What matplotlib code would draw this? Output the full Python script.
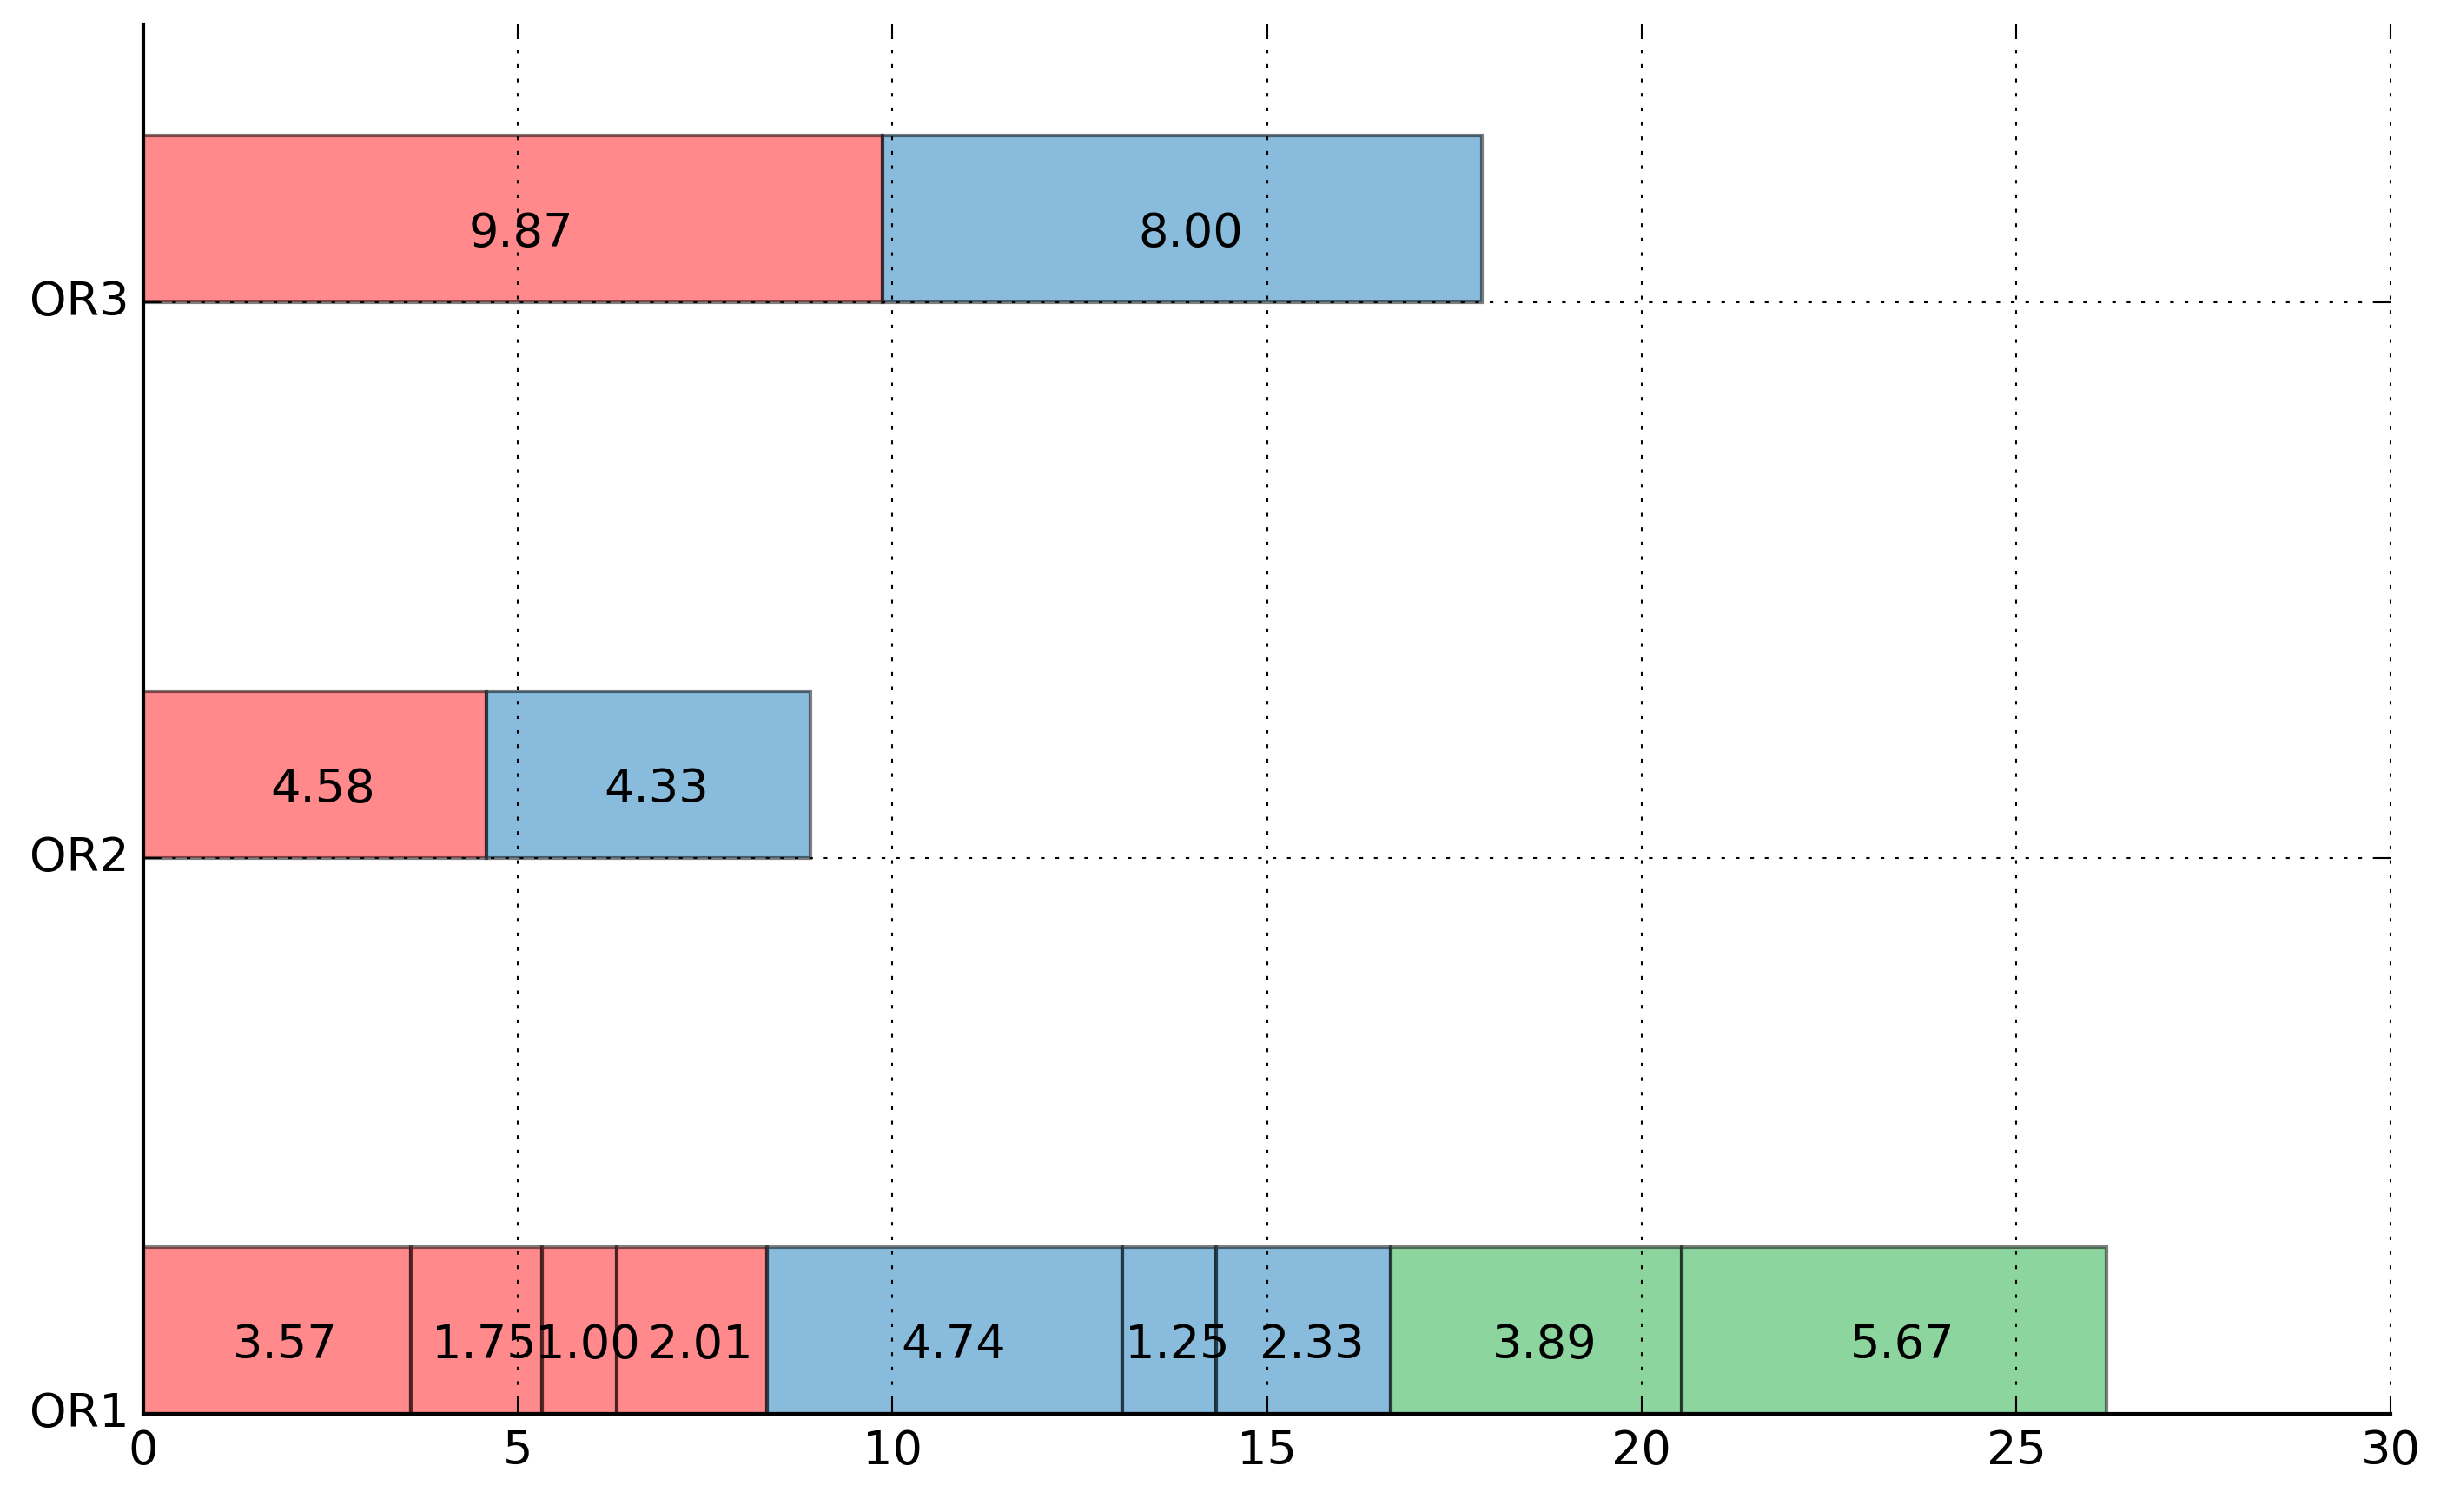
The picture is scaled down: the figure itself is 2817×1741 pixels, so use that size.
import matplotlib
matplotlib.use("Agg")
import matplotlib.pyplot as plt
import numpy as np

plt.style.use('classic')
plt.rcParams['font.family'] = ['DejaVu Sans']

categories = ['OR1', 'OR2', 'OR3']
# segments per row: (value, group)
or1_values = [3.57, 1.75, 1.00, 2.01, 4.74, 1.25, 2.33, 3.89, 5.67]
or1_groups = ['r', 'r', 'r', 'r', 'b', 'b', 'b', 'g', 'g']
or2_values = [4.58, 4.33]
or2_groups = ['r', 'b']
or3_values = [9.87, 8.00]
or3_groups = ['r', 'b']
xticks = [0, 5, 10, 15, 20, 25, 30]

group_colors = {'r': (1.0, 0.082, 0.098), 'b': (0.075, 0.475, 0.733), 'g': (0.114, 0.678, 0.255)}

rows = [(or1_values, or1_groups), (or2_values, or2_groups), (or3_values, or3_groups)]

fig = plt.figure(figsize=(2817/300, 1741/300), dpi=300, facecolor='white')
ax = fig.add_axes([0.0585, 0.065, 0.9185, 0.919])
ax.set_facecolor('white')

bar_h = 0.3
for yi, (vals, grps) in enumerate(rows):
    left = 0.0
    for v, g in zip(vals, grps):
        ax.barh(yi, v, height=bar_h, left=left, align='edge',
                color=group_colors[g], edgecolor='black', alpha=0.5, linewidth=1)
        ax.annotate('%.2f' % v, xy=(left + v / 2, yi + bar_h / 2),
                    xytext=(2.3, -4.0), textcoords='offset points',
                    ha='center', va='center', fontsize=13, color='black')
        left += v

ax.set_xlim(0, 30)
ax.set_ylim(0, 2.5)
ax.set_xticks(xticks)
ax.set_yticks(range(len(categories)))
ax.set_yticklabels(categories)
ax.grid(True, linestyle=':', color='black', linewidth=0.5)
ax.set_axisbelow(False)
ax.spines['top'].set_visible(False)
ax.spines['right'].set_visible(False)
ax.tick_params(direction='in', top=True, right=True, labelsize=13)

fig.savefig('out.png', dpi=300, facecolor='white')
